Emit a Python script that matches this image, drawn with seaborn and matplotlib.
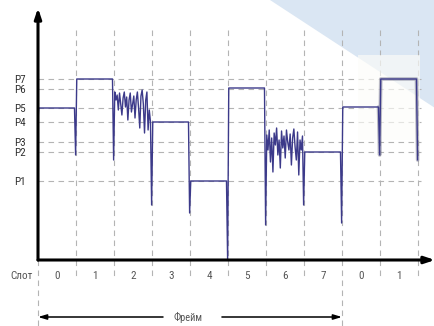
import numpy as np
import pandas as pd
import matplotlib
matplotlib.use('Agg')
import matplotlib.pyplot as plt
from matplotlib import font_manager
from matplotlib.patches import Polygon, Rectangle
import seaborn as sns

# уровни мощности (условные единицы)
p_names = ['P1', 'P2', 'P3', 'P4', 'P5', 'P6', 'P7']
p_values = [79, 108, 118, 138, 152, 171, 181]

# слоты по оси X
slot_labels = ['0', '1', '2', '3', '4', '5', '6', '7', '0', '1']

# уровень в каждом слоте (None = шумный слот) и провал в конце слота
slot_level = [152, 181, None, 138, 79, 172, None, 108, 153, 181]
slot_dip = [105, 100, 55, 47, 0, 35, 55, 37, 105, 100]

# шумные слоты 2 и 6
noise_slot2 = [168, 160, 165, 150, 167, 156, 145, 162, 168, 153, 163, 140, 160, 167, 148, 156,
               164, 142, 160, 168, 152, 132, 164, 170, 156, 127, 160, 168, 130, 150, 138]
noise_slot6 = [125, 110, 130, 98, 122, 88, 127, 115, 132, 105, 120, 92, 129, 112, 124, 102,
               130, 118, 110, 126, 95, 122, 131, 113, 100, 128, 85, 120, 110, 124]
noise = {2: noise_slot2, 6: noise_slot6}

start_value = 140

# сборка кривой
xs, ys = [0.0], [start_value]
for i, lvl in enumerate(slot_level):
    if lvl is None:
        vals = noise[i]
        for x, v in zip(np.linspace(i + 0.02, i + 0.96, len(vals)), vals):
            xs.append(x)
            ys.append(v)
    else:
        xs += [i + 0.02, i + 0.96]
        ys += [lvl, lvl]
    xs.append(i + 0.99)
    ys.append(slot_dip[i])
df = pd.DataFrame({'x': xs, 'y': ys})

sns.set_style('white')
installed = {f.name for f in font_manager.fontManager.ttflist}
narrow = [f for f in ['Liberation Sans Narrow', 'Roboto Condensed', 'Open Sans Condensed',
                      'Roboto', 'Liberation Sans'] if f in installed]
plt.rcParams['font.family'] = narrow[:1] + ['DejaVu Sans']

fig = plt.figure(figsize=(4.35, 3.26), dpi=100)
ax = fig.add_axes([38 / 435, 66 / 326, 397 / 435, 252 / 326])
ax.set_facecolor('none')
ax.set_xlim(0, 397 / 38)
ax.set_ylim(0, 252)

# фон: голубой треугольник в правом верхнем углу
fig.patches.append(Polygon([(270 / 435, 1), (1, 1), (1, 1 - 108 / 326)], closed=True,
                           transform=fig.transFigure, facecolor='#dae6f3',
                           edgecolor='none', zorder=-1))

grid_kw = dict(color='#b4b4b4', lw=0.8, linestyle=(0, (5, 4)))
for v in p_values:
    ax.plot([0, 10.08], [v, v], zorder=1, **grid_kw)
for i in range(1, 11):
    bottom = -66 if i == 8 else -20
    ax.plot([i, i], [230, bottom], clip_on=False, zorder=1, **grid_kw)
ax.plot([0, 0], [0, -66], clip_on=False, zorder=1, **grid_kw)

# размытый светлый прямоугольник
ax.add_patch(Rectangle((8.42, 120), 1.63, 85, facecolor='#fdfdf9', edgecolor='none',
                       alpha=0.65, zorder=2))

sns.lineplot(data=df, x='x', y='y', sort=False, color='#3c3a8a', lw=1.0, ax=ax, zorder=3)
blur = df[df['x'] > 8.42]
ax.plot(blur['x'], blur['y'], color='#6e6e86', lw=2.6, alpha=0.45, zorder=2.5)

ax.set_xlabel('')
ax.set_ylabel('')
ax.set_xticks([])
ax.set_yticks(p_values, p_names)
ax.tick_params(axis='y', length=0, pad=9, labelsize=8, labelcolor='#333333')
for s in ax.spines.values():
    s.set_visible(False)

# оси со стрелками
ax.annotate('', xy=(0, 1.0), xytext=(0, 0), xycoords='axes fraction',
            arrowprops=dict(arrowstyle='-|>,head_length=0.6,head_width=0.2', lw=2.2,
                            color='black', shrinkA=0, shrinkB=0))
ax.annotate('', xy=(1.0, 0), xytext=(0, 0), xycoords='axes fraction',
            arrowprops=dict(arrowstyle='-|>,head_length=0.6,head_width=0.2', lw=2.2,
                            color='black', shrinkA=0, shrinkB=0))

# подписи слотов
for i, lab in enumerate(slot_labels):
    ax.text(i + 0.5, -16, lab, ha='center', va='center', fontsize=8, color='#555555',
            clip_on=False)
ax.text(-0.42, -16, 'Слот', ha='center', va='center', fontsize=8, color='#555555',
        clip_on=False)

# фрейм
arrow_kw = dict(arrowstyle='-|>,head_length=0.5,head_width=0.15', lw=1.1, color='black',
                shrinkA=0, shrinkB=0)
ax.annotate('', xy=(0, -57), xytext=(3.29, -57), arrowprops=arrow_kw, annotation_clip=False)
ax.annotate('', xy=(8, -57), xytext=(4.84, -57), arrowprops=arrow_kw, annotation_clip=False)
ax.text(3.95, -57, 'Фрейм', ha='center', va='center', fontsize=7.5, color='#555555',
        clip_on=False)

fig.savefig('out.png', dpi=100)
